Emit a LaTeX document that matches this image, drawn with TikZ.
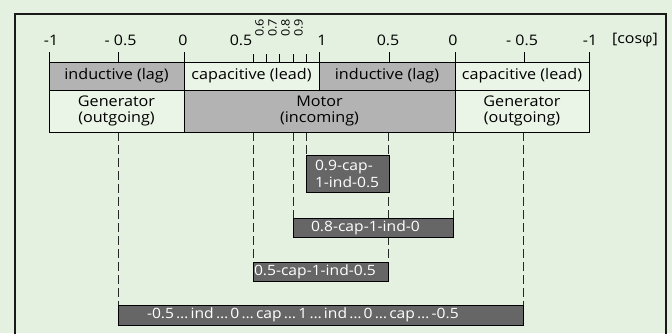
\documentclass[tikz,border=0pt]{standalone}
\usepackage{fontspec}
\setmainfont{Open Sans}[FakeStretch=1.1]
\newfontfamily\grkfont{Open Sans}
\usetikzlibrary{backgrounds}
\definecolor{bgc}{HTML}{E4F0E0}
\definecolor{litec}{HTML}{EBF5E7}
\definecolor{midc}{HTML}{B3B3B3}
\definecolor{darkc}{HTML}{666666}
\definecolor{framec}{HTML}{1A1A1A}
\newcommand{\myell}{\hspace{2.2pt}…\hspace{2.2pt}}
\begin{document}
\begin{tikzpicture}[x=1pt,y=-1pt,
  seg/.style={draw=black, line width=1pt, inner sep=0pt, align=center,
    font=\fontsize{14.7}{16}\selectfont},
  row1/.style={seg, minimum height=28pt},
  row2/.style={seg, minimum height=42pt},
  lite/.style={fill=litec},
  mid/.style={fill=midc},
  darkbox/.style={draw=black, line width=1pt, fill=darkc, text=white, inner ysep=0pt,
    align=left, font=\fontsize{14.2}{16.5}\selectfont},
  ticklab/.style={font=\fontsize{14.5}{16}\selectfont, inner sep=0pt},
  rotlab/.style={font=\fontsize{11.5}{12}\selectfont, inner sep=0pt, rotate=90},
  tickmark/.style={line width=1pt},
  dashline/.style={line width=0.8pt, draw=black!85, dash pattern=on 9pt off 4pt}
]
\useasboundingbox (0,0) rectangle (672,333);
\clip (0,0) rectangle (672,333);

% top row
\node[row1, mid,  minimum width=135pt] (ind1) at (116.5,76) {inductive (lag)};
\node[row1, lite, minimum width=135pt] (cap1) at (251.5,76) {capacitive (lead)};
\node[row1, mid,  minimum width=136pt] (ind2) at (387,76) {inductive (lag)};
\node[row1, lite, minimum width=134pt] (cap2) at (522,76) {capacitive (lead)};
% second row
\node[row2, lite, minimum width=135pt] (gen1) at (116.5,111) {Generator\\(outgoing)};
\node[row2, mid,  minimum width=271pt] (mot) at (319.5,111) {Motor\\(incoming)};
\node[row2, lite, minimum width=134pt] (gen2) at (522,111) {Generator\\(outgoing)};

% result boxes
\node[darkbox, inner xsep=9pt, text width=65pt, minimum height=37.5pt] (b1) at (347.5,173.75) {0.9-cap-\\1-ind-0.5};
\node[darkbox, inner xsep=18pt, text width=124pt, minimum height=19pt] (b2) at (373,227.5) {0.8-cap-1-ind-0};
\node[darkbox, inner xsep=1pt, text width=133pt, minimum height=19pt] (b3) at (320.5,271.5) {0.5-cap-1-ind-0.5};
\node[darkbox, inner xsep=29pt, text width=347pt, minimum height=20pt] (b4) at (320.5,315) {-0.5\myell ind\myell 0\myell cap\myell 1\myell ind\myell 0\myell cap\myell -0.5};

% coordinates at the bottom of the second row
\coordinate (dA) at (118,132);
\coordinate (dB) at (253.5,132);
\coordinate (dC) at (293,132);
\coordinate (dD) at (306,132);
\coordinate (dE) at (388.5,132);
\coordinate (dF) at (453.5,132);
\coordinate (dG) at (523,132);

\begin{pgfonlayer}{background}
  \fill[bgc] (0,0) rectangle (672,333);
  \draw[framec, line width=2pt] (15,14) rectangle (666,350);
  \draw[dashline] (dA) -- (dA |- b4.north);
  \draw[dashline] (dG) -- (dG |- b4.north);
  \draw[dashline] (dB) -- (dB |- b3.north);
  \draw[dashline] (dE) -- (dE |- b3.north);
  \draw[dashline] (dC) -- (dC |- b2.north);
  \draw[dashline] (dF) -- (dF |- b2.north);
  \draw[dashline] (dD) -- (dD |- b1.north);
\end{pgfonlayer}

% ticks
\foreach \tx in {49,118,184,319,389,455,524,589}
  \draw[tickmark] (\tx,62) -- (\tx,51.5);
\foreach \tx in {253.5,266.5,279.5,293,306}
  \draw[tickmark] (\tx,62) -- (\tx,54);

% tick labels
\node[ticklab] (lm1) at (51,40) {-1};
\node[ticklab] (lm05) at (120.5,40) {- 0.5};
\node[ticklab] (l0a) at (183,40) {0};
\node[ticklab] (l05a) at (241,40) {0.5};
\node[ticklab] (l1) at (322,40) {1};
\node[ticklab] (l05b) at (388,40) {0.5};
\node[ticklab] (l0b) at (453,40) {0};
\node[ticklab] (rm05) at (522,40) {- 0.5};
\node[ticklab] (rm1) at (590,40) {-1};
\node[ticklab] (unit) at (635,40) {[cos{\grkfont φ}]};
\node[rotlab] (r06) at (259.5,28) {0.6};
\node[rotlab] (r07) at (272.5,28) {0.7};
\node[rotlab] (r08) at (285.5,28) {0.8};
\node[rotlab] (r09) at (298.5,28) {0.9};
\end{tikzpicture}
\end{document}
